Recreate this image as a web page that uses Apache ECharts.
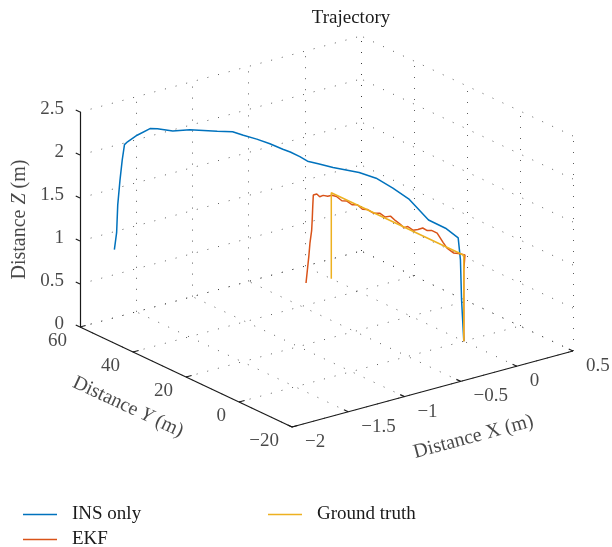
<!DOCTYPE html>
<html>
<head>
<meta charset="utf-8">
<title>Trajectory</title>
<script src="https://cdn.jsdelivr.net/npm/echarts@6/dist/echarts.min.js"></script>
<style>
  html, body { margin: 0; padding: 0; background: #fff; }
  #main { width: 612px; height: 547px; }
</style>
</head>
<body>
<div id="main"></div>
<script>
// tick values of the three axes
var xTicks = [-2, -1.5, -1, -0.5, 0, 0.5];
var yTicks = [-20, 0, 20, 40, 60];
var zTicks = [0, 0.5, 1, 1.5, 2, 2.5];

// trajectories, [x, y, z] in metres
var insOnly = [
  [0.00, 0.0, 0.00], [-0.02, 0.0, 0.49], [-0.03, 0.0, 0.96], [-0.05, 0.0, 1.22],
  [-0.12, 1.8, 1.33], [-0.21, 4.4, 1.42], [-0.31, 7.4, 1.65], [-0.40, 9.8, 1.78],
  [-0.49, 12.3, 1.89], [-0.58, 14.9, 1.95], [-0.72, 18.8, 2.00], [-0.80, 21.0, 2.04],
  [-0.86, 22.5, 2.07], [-0.90, 23.7, 2.12], [-0.95, 25.2, 2.17], [-0.99, 26.3, 2.20],
  [-1.06, 28.2, 2.26], [-1.13, 30.2, 2.31], [-1.20, 32.3, 2.35], [-1.26, 33.8, 2.39],
  [-1.34, 36.2, 2.39], [-1.49, 40.2, 2.40], [-1.58, 42.8, 2.38], [-1.66, 45.2, 2.40],
  [-1.70, 46.3, 2.40], [-1.77, 48.2, 2.32], [-1.82, 49.7, 2.24], [-1.84, 50.0, 2.21],
  [-1.86, 50.0, 2.04], [-1.88, 50.0, 1.81], [-1.90, 50.0, 1.53], [-1.91, 50.0, 1.21],
  [-1.93, 50.0, 1.02]
];
var ekf = [
  [0.00, 0.0, 0.00], [0.00, 0.0, 0.48], [0.00, 0.0, 0.83], [0.01, 0.0, 1.00],
  [0.00, 2.0, 0.99], [0.00, 3.9, 0.97], [-0.01, 5.9, 1.00], [-0.015, 7.2, 1.05],
  [-0.02, 8.3, 1.10], [-0.02, 9.2, 1.13], [-0.03, 10.9, 1.14], [-0.035, 12.3, 1.12],
  [-0.04, 13.8, 1.13], [-0.045, 15.4, 1.09], [-0.05, 17.1, 1.06], [-0.055, 18.8, 1.08],
  [-0.06, 20.0, 1.05], [-0.06, 21.4, 1.07], [-0.065, 23.0, 1.09], [-0.07, 24.7, 1.12],
  [-0.08, 26.3, 1.09], [-0.085, 28.0, 1.11], [-0.09, 30.3, 1.08], [-0.10, 32.2, 1.10],
  [-0.105, 33.8, 1.08], [-0.11, 35.5, 1.11], [-0.12, 37.1, 1.09], [-0.125, 38.8, 1.11],
  [-0.13, 40.5, 1.09], [-0.14, 42.1, 1.12], [-0.14, 43.8, 1.11], [-0.145, 45.2, 1.08],
  [-0.15, 46.7, 1.07], [-0.155, 47.8, 1.04], [-0.16, 48.7, 1.06], [-0.16, 50.0, 1.03],
  [-0.165, 50.0, 0.90], [-0.17, 50.0, 0.74], [-0.175, 50.0, 0.62], [-0.19, 50.0, 0.48],
  [-0.20, 50.0, 0.33], [-0.21, 50.0, 0.21], [-0.225, 50.0, 0.03]
];
var groundTruth = [[0, 0, 0], [0, 0, 1], [0, 50, 1], [0, 50, 0]];

var xMin = -2, xMax = 0.5, yMin = -20, yMax = 60, zMin = 0, zMax = 2.5;

// 3D view: on-screen length (px) of each normalised axis, MATLAB default view
var view = { ux: 281, uy: -212, vx: 76, vy: 100, vz: 215 };

function proj(p) {
  var xn = (p[0] - xMin) / (xMax - xMin);
  var yn = (p[1] - yMin) / (yMax - yMin);
  var zn = (p[2] - zMin) / (zMax - zMin);
  return [view.ux * xn + view.uy * yn, view.vx * xn + view.vy * yn + view.vz * zn];
}
function seg(a, b) { return { coords: [proj(a), proj(b)] }; }
function fmt(v) { return String(v).replace('-', '\u2212'); }
// label offset is applied in the rotated frame; convert a screen offset
function rotOffset(sx, sy, deg) {
  var t = deg * Math.PI / 180;
  return [sx * Math.cos(t) - sy * Math.sin(t), sx * Math.sin(t) + sy * Math.cos(t)];
}

var FONT = 'Liberation Serif';
var INK = '#1a1a1a';

// dotted grid on the three back planes
var gridSegs = [];
xTicks.forEach(function (x) {
  gridSegs.push(seg([x, yMin, zMin], [x, yMax, zMin]));
  gridSegs.push(seg([x, yMax, zMin], [x, yMax, zMax]));
});
yTicks.forEach(function (y) {
  gridSegs.push(seg([xMin, y, zMin], [xMax, y, zMin]));
  gridSegs.push(seg([xMax, y, zMin], [xMax, y, zMax]));
});
zTicks.forEach(function (z) {
  gridSegs.push(seg([xMin, yMax, z], [xMax, yMax, z]));
  gridSegs.push(seg([xMax, yMin, z], [xMax, yMax, z]));
});

// axis lines + tick marks
var tx = 0.02 * (xMax - xMin), ty = 0.02 * (yMax - yMin);
var axisSegs = [
  seg([xMin, yMax, zMin], [xMin, yMax, zMax]),
  seg([xMin, yMin, zMin], [xMin, yMax, zMin]),
  seg([xMin, yMin, zMin], [xMax, yMin, zMin])
];
zTicks.forEach(function (z) { axisSegs.push(seg([xMin, yMax, z], [xMin, yMax + ty, z])); });
yTicks.forEach(function (y) { axisSegs.push(seg([xMin, y, zMin], [xMin + tx, y, zMin])); });
xTicks.forEach(function (x) { axisSegs.push(seg([x, yMin, zMin], [x, yMin + ty, zMin])); });

// tick labels
var tickLabels = [];
zTicks.forEach(function (z) {
  tickLabels.push({ value: proj([xMin, yMax, z]).concat(fmt(z)), label: { align: 'right', offset: [-16, -3] } });
});
yTicks.forEach(function (y) {
  tickLabels.push({ value: proj([xMin, y, zMin]).concat(fmt(y)), label: { align: 'right', offset: [-13, 14] } });
});
xTicks.forEach(function (x) {
  tickLabels.push({ value: proj([x, yMin, zMin]).concat(fmt(x)), label: { align: 'left', offset: [13, 15] } });
});

var titleRich = {
  n: { fontFamily: FONT, fontSize: 20, color: INK },
  i: { fontFamily: FONT, fontSize: 20, color: INK, fontStyle: 'italic' }
};
var axisTitles = [
  { value: proj([xMin, yMax, (zMin + zMax) / 2]).concat(''),
    label: { rotate: 90, offset: rotOffset(-60, 0, 90), formatter: '{n|Distance }{i|Z}{n| (m)}' } },
  { value: proj([xMin, (yMin + yMax) / 2, zMin]).concat(''),
    label: { rotate: -25, offset: rotOffset(-58, 30, -25), formatter: '{n|Distance }{i|Y}{n| (m)}' } },
  { value: proj([(xMin + xMax) / 2, yMin, zMin]).concat(''),
    label: { rotate: 15, offset: rotOffset(41, 48, 15), formatter: '{n|Distance X (m)}' } }
];

function traj(name, pts, color) {
  return {
    name: name, type: 'line', data: pts.map(proj), symbol: 'none', clip: false,
    lineStyle: { color: color, width: 1.5 }, itemStyle: { color: color }, z: 5
  };
}

var legendText = { fontFamily: FONT, fontSize: 19, color: INK, lineHeight: 18, padding: [0, 0, 0, 10] };
var legendBase = {
  orient: 'vertical', top: 505, height: 60, padding: 0, icon: 'rect', itemWidth: 34, itemHeight: 1.5,
  itemGap: 6, textStyle: legendText, selectedMode: false
};

var option = {
  animation: false,
  backgroundColor: '#fff',
  title: {
    text: 'Trajectory', left: 351, top: 9, textAlign: 'center', padding: 0,
    textStyle: { fontFamily: FONT, fontSize: 19, fontWeight: 'normal', color: INK }
  },
  legend: [
    Object.assign({ data: ['INS only', 'EKF'], left: 23 }, legendBase),
    Object.assign({ data: ['Ground truth'], left: 268 }, legendBase)
  ],
  grid: { left: 80, top: 36, width: view.ux - view.uy, height: view.vx + view.vy + view.vz },
  xAxis: { type: 'value', min: view.uy, max: view.ux, show: false },
  yAxis: { type: 'value', min: 0, max: view.vx + view.vy + view.vz, show: false },
  series: [
    { type: 'lines', coordinateSystem: 'cartesian2d', data: gridSegs, clip: false, silent: true, z: 1,
      lineStyle: { color: '#333', width: 1, type: [1, 10], opacity: 0.8 } },
    { type: 'lines', coordinateSystem: 'cartesian2d', data: axisSegs, clip: false, silent: true, z: 2,
      lineStyle: { color: INK, width: 1.2, opacity: 1 } },
    { type: 'scatter', data: tickLabels, symbolSize: 0, clip: false, silent: true, z: 3,
      label: { show: true, position: 'inside', verticalAlign: 'middle', fontFamily: FONT, fontSize: 19, color: INK,
        formatter: function (p) { return p.value[2]; } } },
    { type: 'scatter', data: axisTitles, symbolSize: 0, clip: false, silent: true, z: 3,
      label: { show: true, position: 'inside', align: 'center', verticalAlign: 'middle', rich: titleRich } },
    traj('INS only', insOnly, '#0072BD'),
    traj('EKF', ekf, '#D95319'),
    traj('Ground truth', groundTruth, '#EDB120')
  ]
};

var chart = echarts.init(document.getElementById('main'));
chart.setOption(option);
</script>
</body>
</html>
